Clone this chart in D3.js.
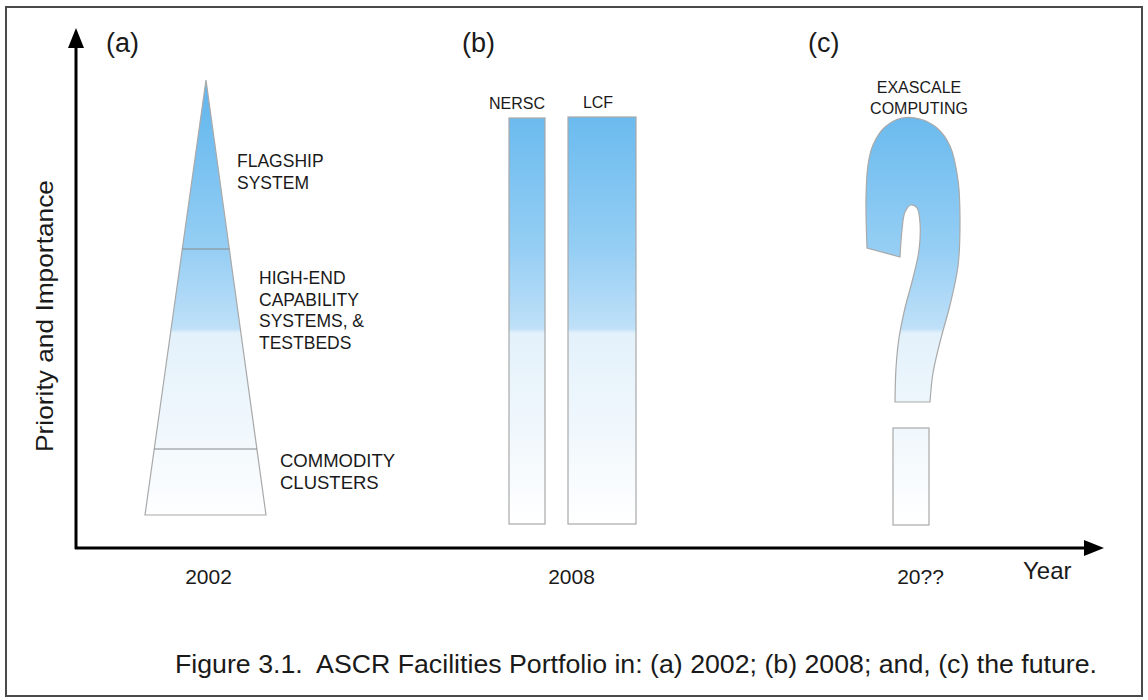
<!DOCTYPE html>
<html>
<head>
<meta charset="utf-8">
<script src="https://cdn.jsdelivr.net/npm/d3@7/dist/d3.min.js"></script>
<style>
html,body{margin:0;padding:0;background:#fff;}
svg text{font-family:"Liberation Sans",Arial,sans-serif;fill:#1a1a1a;}
</style>
</head>
<body>
<svg id="chart" width="1148" height="700"></svg>
<script>
// ---------- data (x in "year units", y in "priority units") ----------
const eras = ["2002", "2008", "20??"];
const eraX = [132, 495, 844];

const panelLabels = ["(a)", "(b)", "(c)"];
const panelX = [30, 386, 732];
const panelY = 496;

// (a) 2002 pyramid
const pyramidApex = [130, 468];
const pyramidBaseLeft = [69, 33];
const pyramidBaseRight = [190, 33];
const tierBounds = [299, 99];
const tierNames = [["FLAGSHIP", "SYSTEM"], ["HIGH-END", "CAPABILITY", "SYSTEMS, &", "TESTBEDS"], ["COMMODITY", "CLUSTERS"]];
const tierLabelX = [161, 183, 204];
const tierLabelTop = [381, 264, 81];
const tierFont = [17.5, 17.5, 18.5];

// (b) 2008 bars
const barNames = ["NERSC", "LCF"];
const barStart = [433, 492];
const barEnd = [469, 560];
const barTop = [430, 431];
const barBase = [24, 24];
const barLabelShift = [-10, -4];

// (c) future question mark
const futureName = ["EXASCALE", "COMPUTING"];
const futureNameX = 843;
const qOuter = [[791, 300], [790, 350], [792, 383], [797, 403], [809, 421], [826, 430], [844, 429], [861, 420], [874, 402], [882, 368], [884, 328], [882, 282], [874, 243], [864, 206], [857, 175], [854, 146]];
const qInner = [[819, 146], [820, 180], [823, 210], [829, 240], [837, 270], [843, 298], [844, 325], [841, 340], [835, 343], [829, 336], [826, 318], [824, 291]];
const qDot = [817, 853, 120, 23];

const yTitle = "Priority and Importance";
const xTitle = "Year";
const caption = "Figure 3.1.  ASCR Facilities Portfolio in: (a) 2002; (b) 2008; and, (c) the future.";

// ---------- scales ----------
const svg = d3.select("#chart");
const x = d3.scaleLinear().domain([0, 1028]).range([76, 1104]);
const y = d3.scaleLinear().domain([0, 520]).range([548, 28]);

// frame
svg.append("rect").attr("x", 6).attr("y", 7).attr("width", 1136).attr("height", 689)
  .attr("fill", "#fff").attr("stroke", "#4a4a4a").attr("stroke-width", 2);

// gradient shared by all shapes
const defs = svg.append("defs");
const grad = defs.append("linearGradient").attr("id", "blueFade")
  .attr("gradientUnits", "userSpaceOnUse")
  .attr("x1", 0).attr("x2", 0).attr("y1", y(468)).attr("y2", y(24));
const stops = [
  [0.00, "#64b3ea"], [0.09, "#6cbbef"], [0.38, "#95cef4"], [0.56, "#bfe0f8"],
  [0.57, "#e3f1fb"], [0.83, "#f3f9fd"], [1.00, "#ffffff"]
];
grad.selectAll("stop").data(stops).join("stop")
  .attr("offset", d => d[0]).attr("stop-color", d => d[1]);

// ---------- (a) pyramid ----------
const tri = [pyramidApex, pyramidBaseRight, pyramidBaseLeft];
svg.append("path")
  .attr("d", d3.line().x(d => x(d[0])).y(d => y(d[1]))(tri) + "Z")
  .attr("fill", "url(#blueFade)").attr("stroke", "#a9a9a9").attr("stroke-width", 1.2);

function halfWidthAt(v) {
  const t = (pyramidApex[1] - v) / (pyramidApex[1] - pyramidBaseLeft[1]);
  return [pyramidApex[0] + (pyramidBaseLeft[0] - pyramidApex[0]) * t,
          pyramidApex[0] + (pyramidBaseRight[0] - pyramidApex[0]) * t];
}
svg.selectAll(".tier").data(tierBounds).join("line").attr("class", "tier")
  .attr("x1", d => x(halfWidthAt(d)[0])).attr("x2", d => x(halfWidthAt(d)[1]))
  .attr("y1", d => y(d)).attr("y2", d => y(d))
  .attr("stroke", "#8a8a8a").attr("stroke-width", 1.2);

tierNames.forEach((lines, i) => {
  const t = svg.append("text").attr("x", x(tierLabelX[i])).attr("y", y(tierLabelTop[i]))
    .attr("font-size", tierFont[i]);
  lines.forEach((l, j) => t.append("tspan").attr("x", x(tierLabelX[i])).attr("dy", j ? 21.7 : 0).text(l));
});

// ---------- (b) bars ----------
svg.selectAll(".bar").data(barNames).join("rect").attr("class", "bar")
  .attr("x", (d, i) => x(barStart[i])).attr("width", (d, i) => x(barEnd[i]) - x(barStart[i]))
  .attr("y", (d, i) => y(barTop[i])).attr("height", (d, i) => y(barBase[i]) - y(barTop[i]))
  .attr("fill", "url(#blueFade)").attr("stroke", "#a9a9a9").attr("stroke-width", 1.2);
svg.selectAll(".barLabel").data(barNames).join("text").attr("class", "barLabel")
  .attr("x", (d, i) => x((barStart[i] + barEnd[i]) / 2) + barLabelShift[i])
  .attr("y", (d, i) => y(barTop[i]) - 9)
  .attr("text-anchor", "middle").attr("font-size", 16).text(d => d);

// ---------- (c) question mark ----------
const curve = d3.line().x(d => x(d[0])).y(d => y(d[1])).curve(d3.curveCatmullRom.alpha(0.5));
const qPath = curve(qOuter) + "L" + curve(qInner).slice(1) + "Z";
svg.append("path").attr("d", qPath)
  .attr("fill", "url(#blueFade)").attr("stroke", "#a9a9a9").attr("stroke-width", 1.2);
svg.append("rect")
  .attr("x", x(qDot[0])).attr("width", x(qDot[1]) - x(qDot[0]))
  .attr("y", y(qDot[2])).attr("height", y(qDot[3]) - y(qDot[2]))
  .attr("fill", "url(#blueFade)").attr("stroke", "#a9a9a9").attr("stroke-width", 1.2);
const ft = svg.append("text").attr("x", x(futureNameX)).attr("y", 93)
  .attr("text-anchor", "middle").attr("font-size", 16);
futureName.forEach((l, j) => ft.append("tspan").attr("x", x(futureNameX)).attr("dy", j ? 21 : 0).text(l));

// ---------- panel labels ----------
svg.selectAll(".panel").data(panelLabels).join("text").attr("class", "panel")
  .attr("x", (d, i) => x(panelX[i])).attr("y", y(panelY))
  .attr("font-size", 27).text(d => d);

// ---------- axes ----------
const xAxis = d3.axisBottom(x).tickValues(eraX).tickFormat((d, i) => eras[i])
  .tickSize(0).tickPadding(21);
const gx = svg.append("g").attr("transform", `translate(0,${y(0)})`).call(xAxis);
gx.select(".domain").remove();
gx.selectAll("text").attr("font-size", 21).attr("font-family", "Liberation Sans, Arial, sans-serif").attr("fill", "#1a1a1a");

// axis lines with arrowheads
svg.append("line").attr("x1", x(-1)).attr("x2", x(1012)).attr("y1", y(0)).attr("y2", y(0))
  .attr("stroke", "#000").attr("stroke-width", 3);
svg.append("line").attr("x1", x(0)).attr("x2", x(0)).attr("y1", y(-1)).attr("y2", y(504))
  .attr("stroke", "#000").attr("stroke-width", 3);
svg.append("path")
  .attr("d", `M${x(1028)},${y(0)} L${x(1008)},${y(0) - 8} L${x(1008)},${y(0) + 8} Z`)
  .attr("fill", "#000");
svg.append("path")
  .attr("d", `M${x(0)},${y(520)} L${x(0) - 8},${y(500)} L${x(0) + 8},${y(500)} Z`)
  .attr("fill", "#000");

svg.append("text").attr("transform", `translate(53,316) rotate(-90)`)
  .attr("text-anchor", "middle").attr("font-size", 24)
  .attr("textLength", 272).attr("lengthAdjust", "spacingAndGlyphs").text(yTitle);
svg.append("text").attr("x", 1023).attr("y", 579).attr("font-size", 24).text(xTitle);

// caption
svg.append("text").attr("x", 175).attr("y", 673).attr("font-size", 25)
  .style("white-space", "pre")
  .attr("textLength", 922).attr("lengthAdjust", "spacingAndGlyphs").text(caption);
</script>
</body>
</html>
